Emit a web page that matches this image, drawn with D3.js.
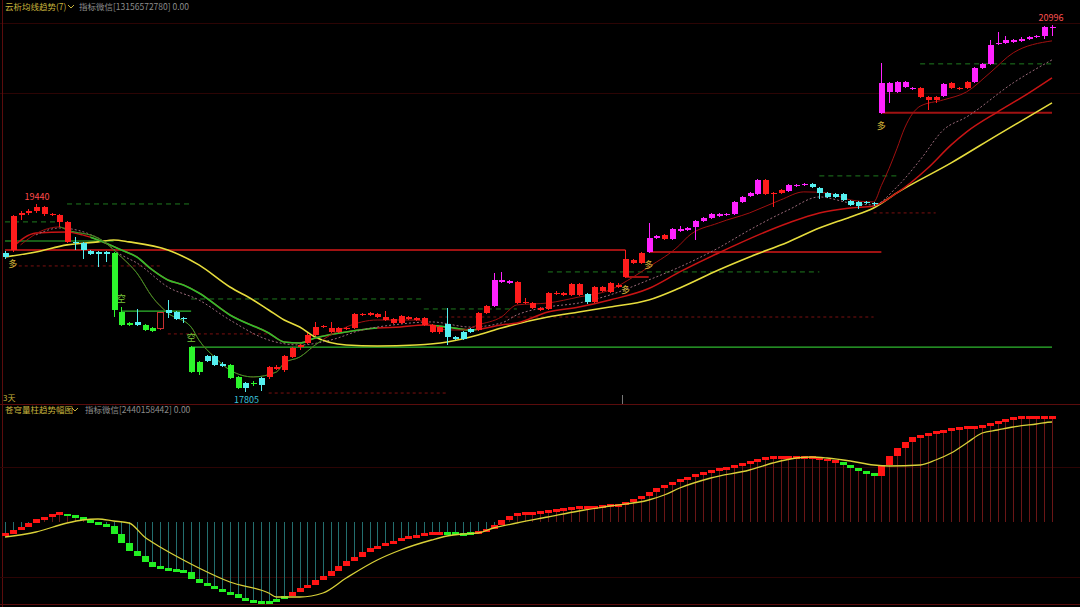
<!DOCTYPE html>
<html><head><meta charset="utf-8">
<script src="https://cdn.jsdelivr.net/npm/d3@7"></script>
<style>html,body{margin:0;background:#000;overflow:hidden}svg{display:block}</style>
</head><body><svg id="c" width="1080" height="607"></svg>
<script>
// ---------------- DATA ----------------
const openP = [19014,19040,19345,19362,19379,19353,19345,19284,19284,19101,19101,19032,19023,19023,19014,18501,18405,18414,18388,18362,18353,18518,18501,18449,18196,18066,18118,18118,18048,18040,17936,17884,17884,17927,17936,18005,17996,18109,18196,18231,18301,18370,18327,18327,18353,18362,18475,18475,18457,18431,18405,18405,18440,18431,18388,18327,18327,18397,18283,18327,18353,18344,18492,18553,18762,18753,18762,18579,18579,18535,18527,18657,18649,18649,18744,18657,18588,18683,18675,18718,18805,18927,18927,19023,19144,19171,19136,19205,19214,19240,19292,19318,19336,19345,19353,19458,19510,19527,19649,19527,19536,19553,19597,19606,19614,19579,19536,19527,19527,19466,19458,19449,19449,20232,20415,20415,20458,20441,20449,20371,20345,20380,20449,20441,20449,20502,20623,20658,20832,20841,20850,20858,20876,20893,20902,20971];
const highP = [19032,19345,19379,19397,19440,19423,19362,19353,19292,19153,19110,19040,19032,19032,19023,18544,18414,18527,18397,18370,18501,18605,18509,18457,18205,18074,18127,18127,18066,18048,17944,17892,17901,17936,18031,18040,18127,18196,18222,18318,18414,18388,18414,18370,18370,18492,18492,18501,18492,18509,18449,18475,18466,18457,18457,18397,18379,18535,18292,18335,18362,18501,18562,18840,18849,18779,18770,18623,18588,18544,18675,18683,18675,18753,18753,18666,18727,18727,18762,18753,19040,18962,19023,19275,19171,19179,19231,19249,19240,19301,19327,19362,19362,19362,19466,19510,19545,19658,19658,19545,19571,19614,19614,19623,19623,19588,19545,19536,19536,19475,19466,19466,19458,20667,20502,20510,20510,20458,20458,20380,20380,20493,20502,20458,20510,20632,20667,20867,20937,20902,20876,20893,20902,20911,20989,20996];
const lowP = [18962,19023,19301,19345,19362,19336,19336,19240,19101,19040,18962,18997,18892,18936,18457,18379,18379,18379,18335,18327,18344,18449,18431,18405,17970,17953,18066,18031,18022,17918,17831,17805,17857,17814,17918,17996,17979,18100,18170,18222,18292,18362,18318,18318,18344,18353,18466,18466,18449,18423,18397,18397,18431,18423,18379,18318,18309,18214,18257,18257,18318,18335,18483,18544,18753,18744,18570,18570,18527,18509,18518,18649,18640,18640,18640,18570,18579,18675,18666,18710,18796,18919,18919,19014,19136,19127,19127,19197,19205,19127,19284,19310,19327,19336,19345,19449,19501,19518,19518,19414,19527,19545,19588,19597,19579,19484,19492,19492,19466,19423,19397,19440,19423,20224,20319,20406,20449,20432,20362,20258,20319,20371,20441,20432,20441,20493,20615,20650,20824,20832,20841,20850,20867,20884,20876,20902];
const closeP = [18979,19336,19362,19379,19414,19414,19353,19345,19110,19105,19040,19005,19005,19005,18518,18388,18388,18388,18344,18335,18492,18492,18440,18440,17979,17979,18074,18040,18031,17927,17839,17839,17875,17866,18022,18022,18118,18188,18214,18301,18370,18379,18362,18362,18362,18483,18483,18492,18483,18457,18440,18466,18457,18449,18449,18388,18370,18283,18266,18266,18327,18492,18553,18779,18779,18770,18579,18588,18535,18518,18666,18666,18666,18744,18649,18588,18718,18718,18753,18736,18962,18953,19014,19144,19162,19136,19223,19223,19231,19292,19318,19353,19353,19353,19458,19501,19536,19649,19527,19536,19562,19606,19606,19614,19588,19536,19501,19501,19475,19432,19423,19458,19440,20493,20493,20502,20502,20449,20371,20345,20371,20484,20493,20449,20502,20623,20658,20824,20841,20867,20867,20876,20893,20902,20980,20980];
// candle state: r=red, m=strong up, c=cyan, g=strong down, h=hollow
const candleState = ("c"+"rrrrrrrr"+"ccccc"+"ggg"+"c"+"gg"+"h"+"ccc"+"gg"+"ccc"+"gg"+"c"+"g"+"c"+"rrrrrrrrrrrrrrrrrrrrrrr"+"cccc"+"rr"+"mmm"+"rrrrrrrrr"+"c"+"rrrrrrr"+"mm"+"r"+"mmmmmmmmmmmm"+"rrr"+"mmm"+"ccccccccc"+"mmmmm"+"rrr"+"m"+"rrr"+"mmmmmmmmmmm").split("");

// moving averages (sampled at candle indices)
const ma5Idx = [2,5,7,8,12,15,17,19,21,24,25,27,29,32,35,36,38,40,44,48,53,55,57,59,61,64,66,70,74,78,81,83,87,88,92,96,100,103,106,109,112,113,114,115,116,118,121,124,127,130,135];
const ma5Val = [19084,19214,19240,19214,19144,18979,18840,18631,18492,18370,18257,18109,17996,17936,17979,18057,18109,18214,18370,18431,18431,18388,18344,18344,18388,18457,18562,18579,18631,18692,18805,18892,19084,19153,19275,19362,19475,19545,19536,19475,19458,19600,19750,19920,20100,20290,20345,20415,20580,20754,20858];
const ma5DownSpans = [[7,41]];
const ma10Idx = [4,7,12,15,17,21,25,29,34,38,42,46,50,55,60,64,66,70,74,78,83,87,92,96,101,105,109,112,115,118,121,124,130,135];
const ma10Val = [19171,19231,19144,18997,18927,18718,18605,18431,18257,18214,18257,18344,18388,18414,18370,18405,18475,18544,18579,18649,18779,18892,19058,19214,19388,19501,19449,19432,19588,19823,20084,20197,20493,20693];
const ma20Idx = [1,4,8,10,12,15,17,19,21,23,25,29,34,36,38,40,44,48,51,54,57,60,64,66,70,74,78,83,87,92,101,105,109,112,115,119,122,124,128,131,135];
const ma20Val = [19066,19188,19197,19171,19127,19040,18979,18866,18779,18736,18666,18475,18318,18240,18231,18275,18327,18362,18370,18388,18370,18344,18388,18405,18501,18544,18605,18705,18849,19014,19275,19362,19405,19423,19536,19753,19954,20067,20241,20362,20537];
const ma20DownSpans = [[11,48],[55,61]];
const ma60Idx = [0,4,8,12,14,16,21,25,29,32,34,36,38,40,44,48,53,57,61,64,70,74,78,83,87,92,96,101,105,109,112,115,122,128,135];
const ma60Val = [18979,19023,19084,19110,19127,19110,19040,18910,18718,18605,18518,18431,18370,18283,18214,18205,18214,18240,18301,18362,18457,18501,18544,18605,18710,18866,18979,19110,19231,19327,19405,19536,19797,20041,20319];

// horizontal levels: from index, to index, price, kind (gs green solid, rs red solid, gd green dashed, rd red dashed)
const levelFrom  = [0,15,24,0,83,113,80, 0,8,24,54,70,105,118, 1,21,34,56,112];
const levelTo    = [14,24,135,80,113,135,83, 7,24,54,66,105,115,135, 20,34,57,112,120];
const levelPrice = [19118,18509,18196,19040,19023,20232,18805, 19284,19440,18614,18527,18849,19684,20658, 18901,18310,17796,18457,19362];
const levelKind  = ["gs","gs","gs","rs","rs","rs","rs", "gd","gd","gd","gd","gd","gd","gd", "rd","rd","rd","rd","rd"];

// signals
const buyIdx = [1,80,83,113];
const sellIdx = [15,24];

// lower panel oscillator
const oscVal = [-12,-8,-5,-1,3,5,8,8.5,6,5,2,-1,-2,-4,-12,-21,-29,-34,-40,-45,-46,-48,-49,-50,-57,-61,-64,-67,-70,-72,-76,-79,-80,-80.5,-79.5,-77,-74,-70,-66,-63,-58,-54,-49,-44,-39,-35,-30,-26,-24,-21,-19,-16,-15,-13,-11,-11,-11,-11,-12,-12,-11,-10,-7,-3,2,6,9,9,9,10,11,12,13,14.5,15,15,15,16,17,17,20,23,26,30,34,37,40,43,45,48,50,52,53,55,56,59,60,63,64,65,65,65,65,65,64,63.5,61,60,57,54,51,49,46,57,66,74,80,85,87,89,90,92,93,94,94.5,95,97,99,101,103,104,105,105,105,105,105];
const oscState = ("rrrrrrrr"+"ggggggggggggggggggggggggggggg"+"rrrrrrrrrrrrrrrrrrrr"+"gggg"+"rrrrrrrrrrrrrrrrrrrrrrrrrrrrrrrrrrrrrrrrrrrrrrr"+"ggggg"+"rrrrrrrrrrrrrrrrrrrrrrr").split("");
const sigIdx = [0,4,8,10,12,14,16,18,20,23,25,29,34,35,38,41,44,48,51,55,57,59,61,63,66,70,74,78,83,85,87,91,96,99,102,104,106,109,112,114,118,120,122,124,126,128,130,133,135];
const sigVal = [-15,-10,-1,2,3,1,-1,-15,-25,-38,-46,-60,-71,-75,-75,-71,-56,-38,-28,-18,-14,-12,-11,-6,-1,5,11,16,22,27,34,44,52,59,64,65,64,61,57,56,57,62,69,79,89,92,95,98,100,103];

const titleTop = "云析均线趋势(7)";
const infoTop = "指标微信[13156572780] 0.00";
const titleBottom = "苍穹量柱趋势幅图";
const infoBottom = "指标微信[2440158442] 0.00";
const periodLabel = "3天";

// ---------------- DRAW ----------------
const svg = d3.select('#c');
svg.append('rect').attr('width',1080).attr('height',607).attr('fill','#000');
const N = closeP.length;
const x = d3.scaleLinear().domain([0, N-1]).range([5, 1052]);
const y = d3.scaleLinear().domain([17805, 20996]).range([392, 25]);
const yo = d3.scaleLinear().domain([-82, 118]).range([604, 404]);
const FONT = "'Noto Sans CJK SC','Noto Sans',sans-serif";

// frame / grid
const frame = svg.append('g').attr('stroke','#4a0808').attr('stroke-width',1).attr('shape-rendering','crispEdges');
[23, 93].forEach(v => frame.append('line').attr('x1',0).attr('x2',1080).attr('y1',v+0.5).attr('y2',v+0.5).attr('stroke','#2c0404'));
frame.append('line').attr('x1',0).attr('x2',1080).attr('y1',404.5).attr('y2',404.5).attr('stroke','#5a0c0c');
frame.append('line').attr('x1',0).attr('x2',1080).attr('y1',604.5).attr('y2',604.5).attr('stroke','#5a0c0c');
frame.append('line').attr('x1',2.5).attr('x2',2.5).attr('y1',0).attr('y2',607).attr('stroke','#5a0c0c');
frame.append('line').attr('x1',0).attr('x2',1080).attr('y1',yo(55)+0.5).attr('y2',yo(55)+0.5).attr('stroke','#2c0404');
frame.append('line').attr('x1',0).attr('x2',1080).attr('y1',yo(-55)+0.5).attr('y2',yo(-55)+0.5).attr('stroke','#2c0404');
svg.append('line').attr('x1',622.5).attr('x2',622.5).attr('y1',395).attr('y2',404).attr('stroke','#777');

// levels
const lvlStyle = {
  gs:{c:'#2fb82f',w:1.2,d:null},
  rs:{c:'#a01212',w:2,d:null},
  gd:{c:'#1f7a1f',w:1,d:'5,4'},
  rd:{c:'#7a1010',w:1,d:'3,3'}
};
const lv = svg.append('g');
levelPrice.forEach((p,i)=>{
  const s = lvlStyle[levelKind[i]];
  lv.append('line').attr('x1',x(levelFrom[i])).attr('x2',x(levelTo[i]))
    .attr('y1',y(p)).attr('y2',y(p)).attr('stroke',s.c).attr('stroke-width',s.w)
    .attr('stroke-dasharray',s.d);
});

// MA lines
const defs = svg.append('defs');
function spansClip(id, spans){
  const cp = defs.append('clipPath').attr('id',id);
  spans.forEach(s=>cp.append('rect').attr('x',x(s[0])).attr('width',x(s[1])-x(s[0])).attr('y',0).attr('height',404));
}
spansClip('ma5down', ma5DownSpans);
spansClip('ma20down', ma20DownSpans);
const lineGen = (idx, val) => d3.line().x((d,i)=>x(idx[i])).y((d,i)=>y(val[i])).curve(d3.curveMonotoneX)(val);
const ma = svg.append('g').attr('fill','none');
ma.append('path').attr('d',lineGen(ma60Idx,ma60Val)).attr('stroke','#e6dc3c').attr('stroke-width',1.6);
ma.append('path').attr('d',lineGen(ma20Idx,ma20Val)).attr('stroke','#c81414').attr('stroke-width',1.5);
ma.append('path').attr('d',lineGen(ma20Idx,ma20Val)).attr('stroke','#2ec02e').attr('stroke-width',1.6).attr('clip-path','url(#ma20down)');
ma.append('path').attr('d',lineGen(ma10Idx,ma10Val)).attr('stroke','#9a6a7a').attr('stroke-width',1).attr('stroke-dasharray','2,2');
ma.append('path').attr('d',lineGen(ma5Idx,ma5Val)).attr('stroke','#a01010').attr('stroke-width',1);
ma.append('path').attr('d',lineGen(ma5Idx,ma5Val)).attr('stroke','#28a028').attr('stroke-width',1).attr('clip-path','url(#ma5down)');

// candles
const col = {r:'#ff1c1c', m:'#ff22ff', c:'#55f0f0', g:'#2cf52c', h:'#c83030'};
const cw = 6;
const cg = svg.append('g').attr('shape-rendering','crispEdges');
d3.range(N).forEach(i=>{
  const st = candleState[i], c = col[st];
  const cx = Math.round(x(i)) + 0.5;
  cg.append('line').attr('x1',cx).attr('x2',cx).attr('y1',y(highP[i])).attr('y2',y(lowP[i])).attr('stroke',c);
  const top = y(Math.max(openP[i],closeP[i])), bot = y(Math.min(openP[i],closeP[i]));
  cg.append('rect').attr('x',cx-cw/2).attr('y',top).attr('width',cw).attr('height',Math.max(1,bot-top))
    .attr('fill', st==='h' ? '#000' : c).attr('stroke', st==='h' ? c : 'none');
});

// signal labels
buyIdx.forEach(i=>svg.append('text').attr('x',x(i)).attr('y',y(lowP[i])+15).attr('text-anchor','middle')
  .attr('font-family',FONT).attr('font-size',9).attr('fill','#d8b83a').text('多'));
sellIdx.forEach(i=>svg.append('text').attr('x',x(i)).attr('y',y(highP[i])-5).attr('text-anchor','middle')
  .attr('font-family',FONT).attr('font-size',9).attr('fill','#7ac83a').text('空'));

// high/low labels
const hiI = d3.maxIndex(highP.slice(0,20));
const loI = d3.minIndex(lowP);
const topI = d3.maxIndex(highP);
svg.append('text').attr('x',x(hiI)+1).attr('y',y(highP[hiI])-4).attr('text-anchor','middle').attr('font-family',FONT).attr('font-size',9).attr('fill','#ff4a4a').text(highP[hiI]);
svg.append('text').attr('x',x(loI)+1).attr('y',y(lowP[loI])+11).attr('text-anchor','middle').attr('font-family',FONT).attr('font-size',9).attr('fill','#3cc0dc').text(lowP[loI]);
svg.append('text').attr('x',x(topI)-1).attr('y',y(highP[topI])-4).attr('text-anchor','middle').attr('font-family',FONT).attr('font-size',9).attr('fill','#ff5050').text(highP[topI]);

// lower panel
const lo = svg.append('g').attr('shape-rendering','crispEdges');
d3.range(N).forEach(i=>{
  const v = oscVal[i];
  const cx = Math.round(x(i)) + 0.5;
  lo.append('line').attr('x1',cx).attr('x2',cx).attr('y1',yo(0)).attr('y2',yo(v))
    .attr('stroke', v>=0 ? '#6a1616' : '#236e6e');
});
d3.range(N).forEach(i=>{
  const prev = i>0 ? oscVal[i-1] : oscVal[i];
  const a = yo(Math.max(prev,oscVal[i])), b = yo(Math.min(prev,oscVal[i]));
  let h = b-a, t = a;
  if (h < 2.5){ t = (a+b)/2 - 1.5; h = 3; }
  const cx = Math.round(x(i)) + 0.5;
  lo.append('rect').attr('x',cx-3.5).attr('y',t).attr('width',7).attr('height',h)
    .attr('fill', oscState[i]==='r' ? '#ff1414' : '#22f022');
});
svg.append('path').attr('fill','none').attr('stroke','#d8d038').attr('stroke-width',1.3)
  .attr('d', d3.line().x((d,i)=>x(sigIdx[i])).y(d=>yo(d)).curve(d3.curveMonotoneX)(sigVal));

// headers
function header(yb, t1, t2, chevX, infoX){
  svg.append('text').attr('x',5).attr('y',yb).attr('font-family',FONT).attr('font-size',8.5).attr('fill','#c8b43c').text(t1);
  svg.append('path').attr('d',`M${chevX},${yb-5} L${chevX+3},${yb-2} L${chevX+6},${yb-5}`).attr('fill','none').attr('stroke','#c8b43c').attr('stroke-width',1);
  svg.append('text').attr('x',infoX).attr('y',yb).attr('font-family',FONT).attr('font-size',8.5).attr('fill','#8c8c8c').text(t2);
}
header(10, titleTop, infoTop, 68, 79);
header(413, titleBottom, infoBottom, 72, 85);
svg.append('text').attr('x',3).attr('y',401).attr('font-family',FONT).attr('font-size',8).attr('fill','#c8b43c').text(periodLabel);
</script></body></html>
